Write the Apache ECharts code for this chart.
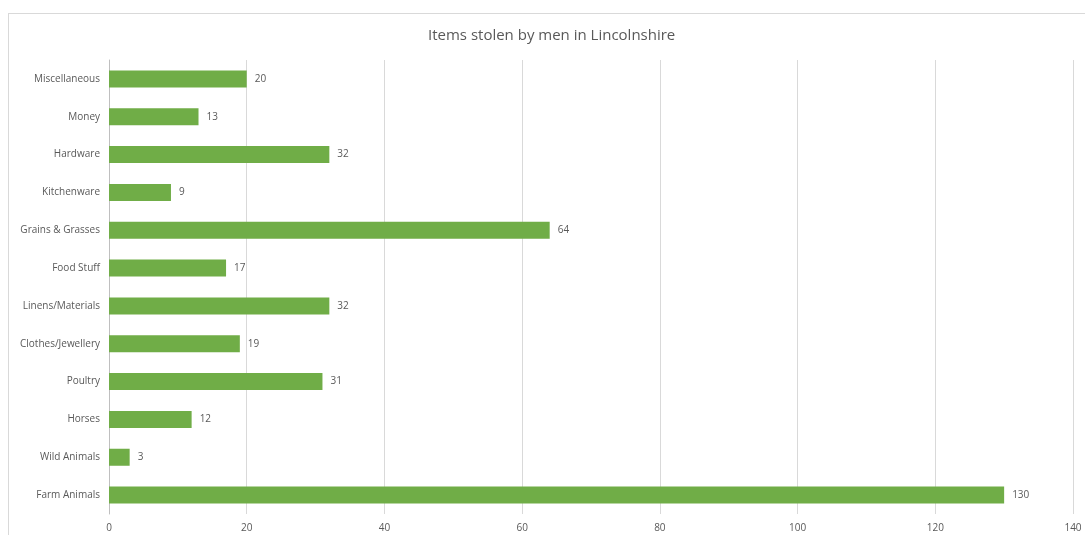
<!DOCTYPE html>
<html>
<head>
<meta charset="utf-8">
<style>
  html, body { margin: 0; padding: 0; background: #ffffff; }
  #frame { position: absolute; left: 8px; top: 13px; width: 1090px; height: 540px; border: 1px solid #d9d9d9; box-sizing: border-box; }
  #chart { position: absolute; left: 0; top: 0; width: 1085px; height: 535px; }
</style>
<script src="https://cdn.jsdelivr.net/npm/echarts@6/dist/echarts.min.js"></script>
</head>
<body>
<div id="frame"></div>
<div id="chart"></div>
<script>
// Categories listed top to bottom
const categories = [
  'Miscellaneous', 'Money', 'Hardware', 'Kitchenware', 'Grains & Grasses',
  'Food Stuff', 'Linens/Materials', 'Clothes/Jewellery', 'Poultry', 'Horses',
  'Wild Animals', 'Farm Animals'
];
const counts = [20, 13, 32, 9, 64, 17, 32, 19, 31, 12, 3, 130];
const titleText = 'Items stolen by men in Lincolnshire';

const chart = echarts.init(document.getElementById('chart'), null, { renderer: 'canvas' });
const textColor = '#595959';
const fontFamily = '"Open Sans", "Noto Sans", sans-serif';

chart.setOption({
  animation: false,
  backgroundColor: 'transparent',
  title: {
    text: titleText,
    left: 423,
    top: 23,
    textStyle: { color: textColor, fontSize: 15, fontWeight: 'normal', fontFamily: fontFamily }
  },
  grid: { left: 109, right: 12, top: 60, bottom: 21, containLabel: false },
  xAxis: {
    type: 'value',
    min: 0, max: 140, interval: 20,
    axisLine: { show: false },
    axisTick: { show: false },
    axisLabel: { color: textColor, fontSize: 10, fontFamily: fontFamily, margin: 9 },
    splitLine: { lineStyle: { color: '#d9d9d9', width: 1 } }
  },
  yAxis: {
    type: 'category',
    inverse: true,
    data: categories,
    axisLine: { lineStyle: { color: '#bfbfbf' } },
    axisTick: { length: 4, lineStyle: { color: '#bfbfbf' } },
    axisLabel: { color: textColor, fontSize: 10, fontFamily: fontFamily, margin: 9, padding: [2, 0, 0, 0] }
  },
  series: [{
    type: 'bar',
    data: counts,
    barWidth: '45%',
    itemStyle: { color: '#70AD47' },
    label: {
      show: true, position: 'right', distance: 8,
      color: textColor, fontSize: 10, fontFamily: fontFamily
    }
  }]
});
</script>
</body>
</html>
